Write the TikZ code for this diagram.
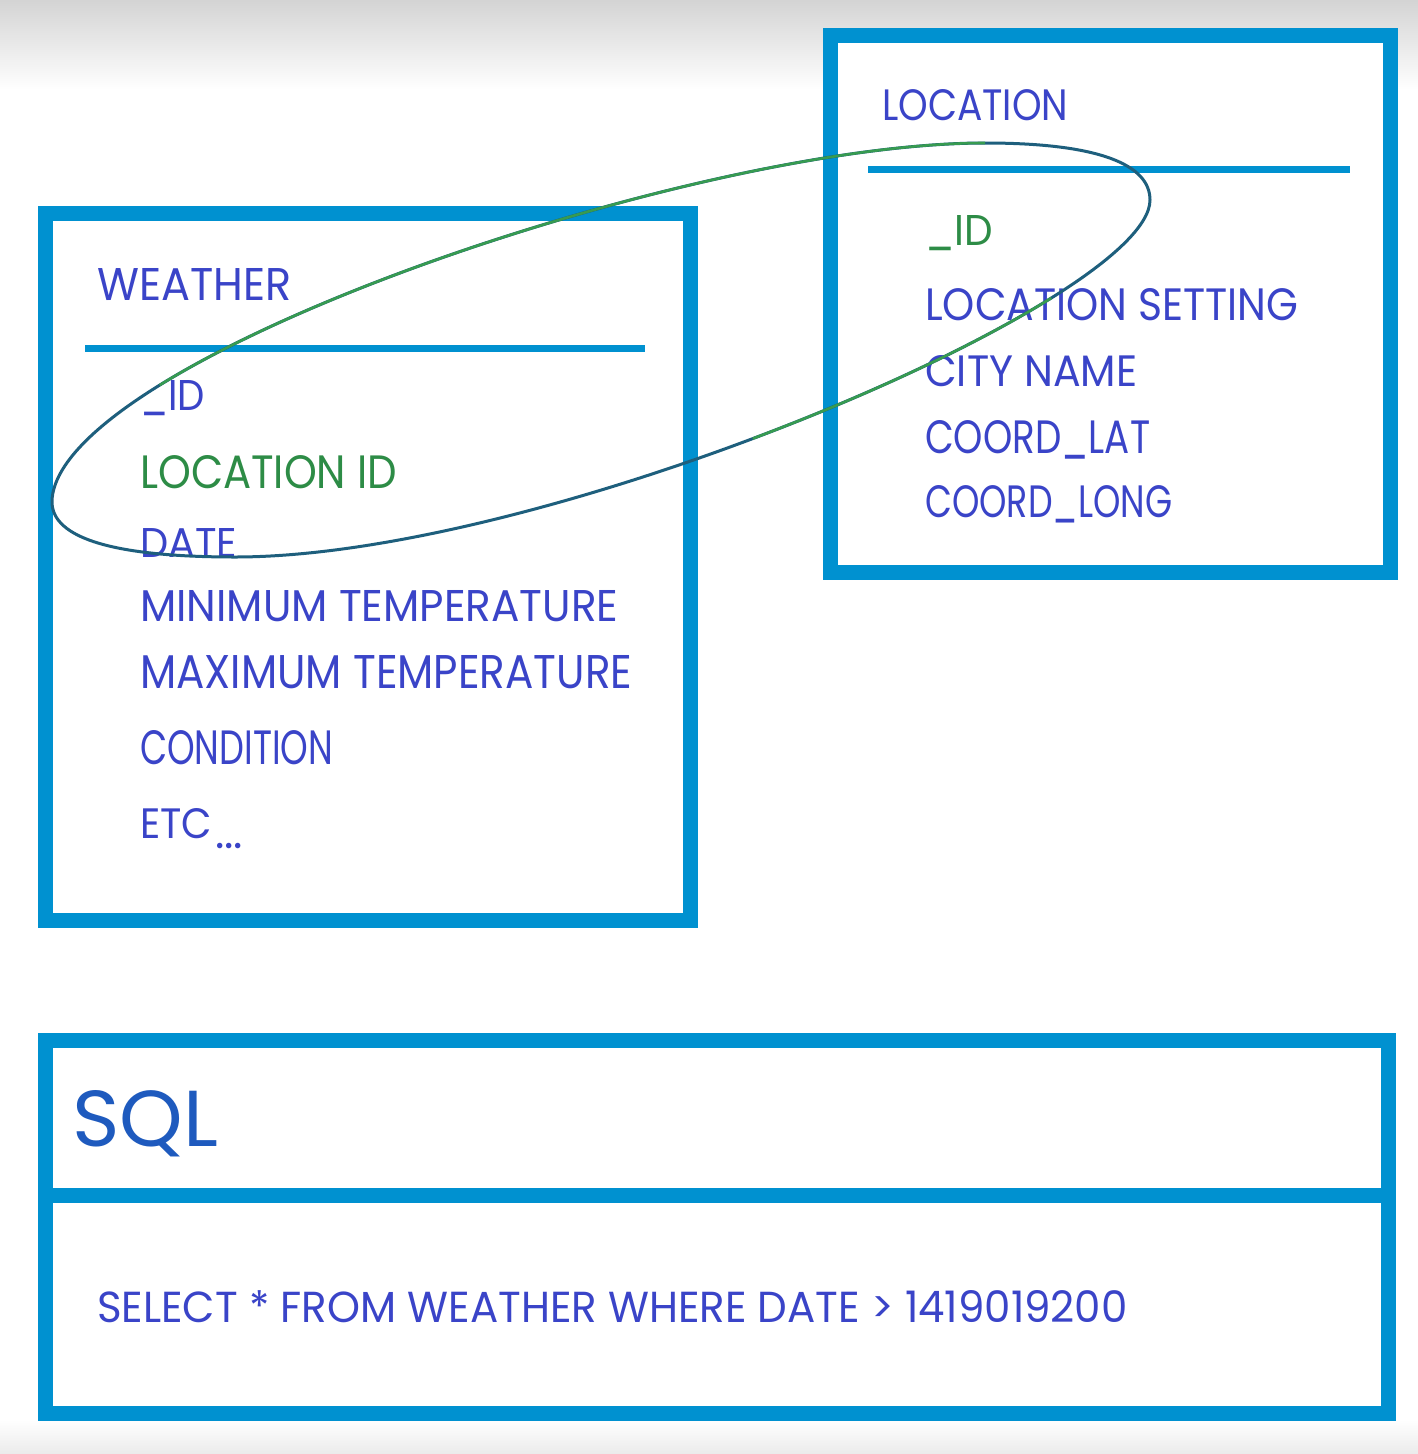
\documentclass[tikz,border=0pt]{standalone}
\usepackage{fontspec}
\setmainfont{Poppins}
\usepackage{graphicx}
\definecolor{boxblue}{RGB}{0,145,208}
\definecolor{inkblue}{RGB}{58,68,200}
\definecolor{sqlblue}{RGB}{30,90,190}
\definecolor{inkgreen}{RGB}{45,140,70}
\definecolor{loopteal}{RGB}{30,95,125}
\definecolor{loopgreen}{RGB}{55,155,80}
\newcommand{\fitto}[3]{\resizebox{#1pt}{#2pt}{#3}}
\begin{document}
\begin{tikzpicture}[x=1pt,y=-1pt,
  frame/.style={draw=boxblue,line width=15pt,fill=white,inner sep=0pt,outer sep=0pt,anchor=north west},
  rule/.style={draw=boxblue,line width=7pt},
  txt/.style={anchor=base west,inner sep=0pt,text=inkblue},
  gtxt/.style={txt,text=inkgreen}]
\useasboundingbox (0,0) rectangle (1418,1454);
\fill[white] (0,0) rectangle (1418,1454);
\shade[top color=black!17,bottom color=white] (0,0) rectangle (1418,90);
\shade[top color=white,bottom color=black!8] (0,1420) rectangle (1418,1454);

% boxes
\node[frame,minimum width=645pt,minimum height=707pt] (weatherbox) at (45,213) {};
\node[frame,minimum width=560pt,minimum height=537pt] (locationbox) at (830,35) {};
\node[frame,minimum width=1343pt,minimum height=373pt] (sqlbox) at (45,1040) {};
\draw[rule] (85,348) -- (645,348);
\draw[rule] (868,169) -- (1350,169);
\draw[draw=boxblue,line width=15pt] (45,1195) -- (1388,1195);

% weather texts
\node[txt] (wtitle) at (97,300) {\fitto{194}{32}{WEATHER}};
\node[txt] (wid) at (140,410) {\fitto{65}{30}{\_ID}};
\node[gtxt] (wlocid) at (140,488) {\fitto{257}{33}{LOCATION ID}};
\node[txt] (wdate) at (140,557) {\fitto{97}{29}{DATE}};
\node[txt] (wmin) at (140,621) {\fitto{478}{31}{MINIMUM TEMPERATURE}};
\node[txt] (wmax) at (140,688) {\fitto{492}{33}{MAXIMUM TEMPERATURE}};
\node[txt] (wcond) at (140,764) {\fitto{193}{34}{CONDITION}};
\node[txt] (wetc) at (140,838) {\fitto{72}{30}{ETC}\hspace{3pt}\raisebox{-10pt}{\resizebox{28pt}{!}{...}}};

% location texts
\node[txt] (ltitle) at (882,120) {\fitto{186}{31}{LOCATION}};
\node[gtxt] (lid) at (925,245) {\fitto{68}{30}{\_ID}};
\node[txt] (lset) at (925,320) {\fitto{373}{32}{LOCATION SETTING}};
\node[txt] (lcity) at (925,386) {\fitto{212}{31}{CITY NAME}};
\node[txt] (llat) at (925,453) {\fitto{225}{33}{COORD\_LAT}};
\node[txt] (llong) at (925,517) {\fitto{247}{32}{COORD\_LONG}};

% sql texts
\node[txt,text=sqlblue] (sqltitle) at (72,1146) {\fitto{146}{56}{SQL}};
\node[txt] (query) at (97,1322) {\fitto{1030}{32}{SELECT * FROM WEATHER WHERE DATE > 1419019200}};

% hand-drawn loop around the two id fields
\draw[loopteal,line width=3pt]
  (52,500) .. controls (54,465) and (94.9,425.2) .. (159.7,385.1)
  .. controls (354.1,265.0) and (763.75,143) .. (985,143)
  .. controls (1100,143) and (1150,165) .. (1150,200)
  .. controls (1150,300) and (550,557) .. (235,557)
  .. controls (120,557) and (50,540) .. cycle;
\draw[loopgreen,line width=2.6pt]
  (159.7,385.1) .. controls (354.1,265.0) and (763.75,143) .. (985,143);
\draw[loopgreen,line width=2.6pt]
  (1051.3,298) .. controls (977.9,343.8) and (870.4,394.4) .. (752.7,438.6);
\end{tikzpicture}
\end{document}
